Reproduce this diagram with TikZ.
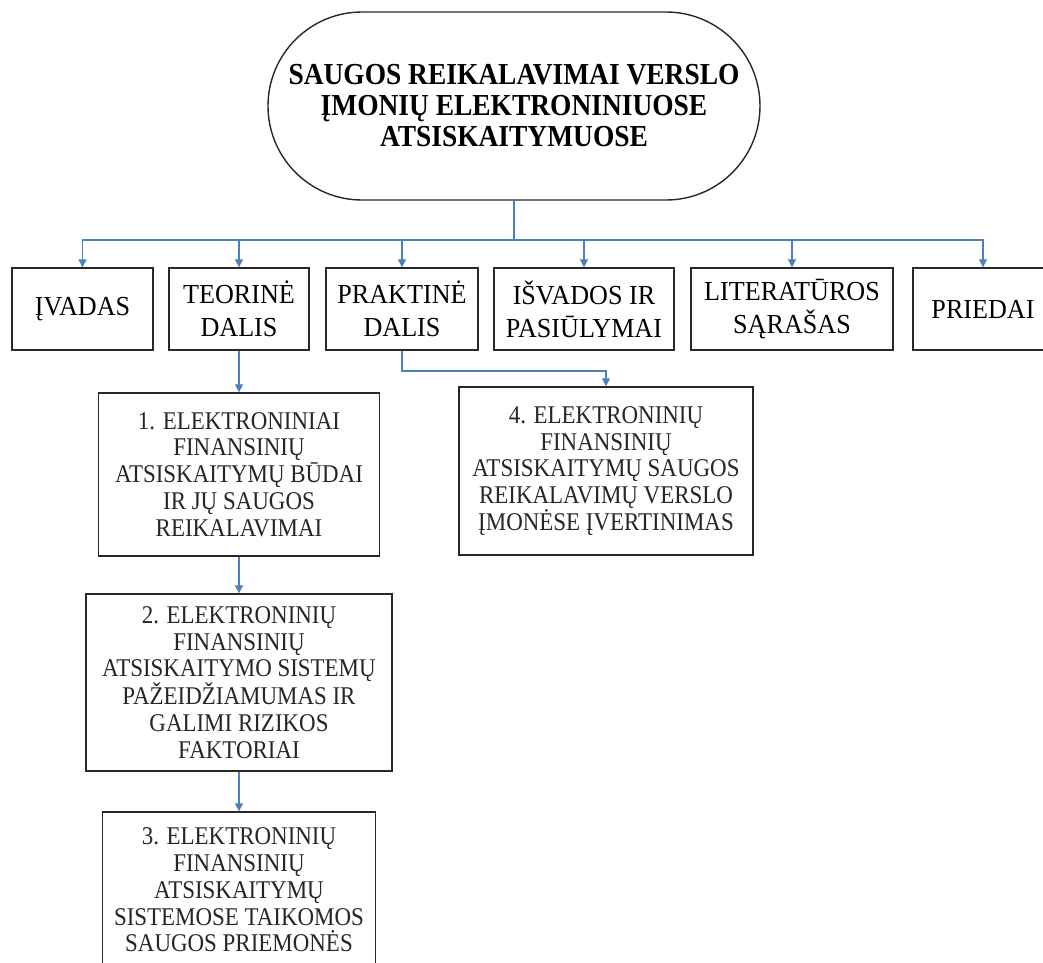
\documentclass[tikz,border=0pt]{standalone}
\usepackage{fontspec}
\setmainfont{Liberation Serif}
\newfontfamily\headfont{Liberation Serif}[FakeStretch=0.9]
\newfontfamily\partfont{Liberation Serif}[FakeStretch=0.95]
\newfontfamily\chapfont{Liberation Serif}[FakeStretch=0.9]
\usetikzlibrary{arrows.meta}

\definecolor{linkblue}{RGB}{79,129,189}
\definecolor{boxline}{RGB}{40,40,40}

\tikzset{
  titlebox/.style={draw=boxline, line width=1.4pt, rounded corners=94pt,
    minimum width=492pt, minimum height=188pt, inner sep=0pt, align=center,
    font=\headfont\bfseries\fontsize{30.5}{31}\selectfont},
  partbox/.style={draw=boxline, line width=1.4pt, minimum height=82pt,
    inner sep=0pt, align=center, font=\partfont\fontsize{27.5}{33}\selectfont},
  chapbox/.style={draw=boxline, line width=1.4pt, inner sep=0pt, align=center,
    text=black!85, font=\chapfont\fontsize{25.5}{26.8}\selectfont},
  link/.style={draw=linkblue, line width=1.3pt,
    -{Triangle[width=8pt,length=8pt]}}
}

\begin{document}
\begin{tikzpicture}[x=1pt, y=-1pt]
  \clip (0,0) rectangle (1043,962);
  \fill[white] (0,0) rectangle (1043,962);

  % title
  \node[titlebox] (title) at (514,106)
    {SAUGOS REIKALAVIMAI VERSLO\\ĮMONIŲ ELEKTRONINIUOSE\\ATSISKAITYMUOSE};

  % main parts
  \node[partbox, minimum width=141pt] (ivadas) at (82.5,309) {ĮVADAS};
  \node[partbox, minimum width=140pt] (teor)   at (239,309)  {TEORINĖ\\DALIS};
  \node[partbox, minimum width=152pt] (prakt)  at (402,309)  {PRAKTINĖ\\DALIS};
  \node[partbox, minimum width=180pt] (isv)    at (584,309)  {IŠVADOS IR\\PASIŪLYMAI};
  \node[partbox, minimum width=202pt] (lit)    at (792,309)  {LITERATŪROS\\SĄRAŠAS};
  \node[partbox, minimum width=140pt] (pried)  at (983,309)  {PRIEDAI};

  % chapters
  \node[chapbox, minimum width=281pt, minimum height=163pt] (ch1) at (239,474.5)
    {1. ELEKTRONINIAI\\FINANSINIŲ\\ATSISKAITYMŲ BŪDAI\\IR JŲ SAUGOS\\REIKALAVIMAI};
  \node[chapbox, minimum width=306pt, minimum height=177pt] (ch2) at (239,682.5)
    {2. ELEKTRONINIŲ\\FINANSINIŲ\\ATSISKAITYMO SISTEMŲ\\PAŽEIDŽIAMUMAS IR\\GALIMI RIZIKOS\\FAKTORIAI};
  \node[chapbox, minimum width=273pt, minimum height=156pt] (ch3) at (239,890)
    {3. ELEKTRONINIŲ\\FINANSINIŲ\\ATSISKAITYMŲ\\SISTEMOSE TAIKOMOS\\SAUGOS PRIEMONĖS};
  \node[chapbox, minimum width=294pt, minimum height=168pt] (ch4) at (606,471)
    {4. ELEKTRONINIŲ\\FINANSINIŲ\\ATSISKAITYMŲ SAUGOS\\REIKALAVIMŲ VERSLO\\ĮMONĖSE ĮVERTINIMAS};

  % branching levels
  \coordinate (bar) at (0,240);
  \coordinate (elbow) at (0,371);

  % title to main parts
  \foreach \part in {ivadas,teor,prakt,isv,lit,pried}
    \draw[link] (title.south) -- (title.south |- bar) -| (\part.north);

  % theory chapters
  \draw[link] (teor.south) -- (ch1.north);
  \draw[link] (ch1.south) -- (ch2.north);
  \draw[link] (ch2.south) -- (ch3.north);

  % practical chapter
  \draw[link] (prakt.south) -- (prakt.south |- elbow) -| (ch4.north);
\end{tikzpicture}
\end{document}
